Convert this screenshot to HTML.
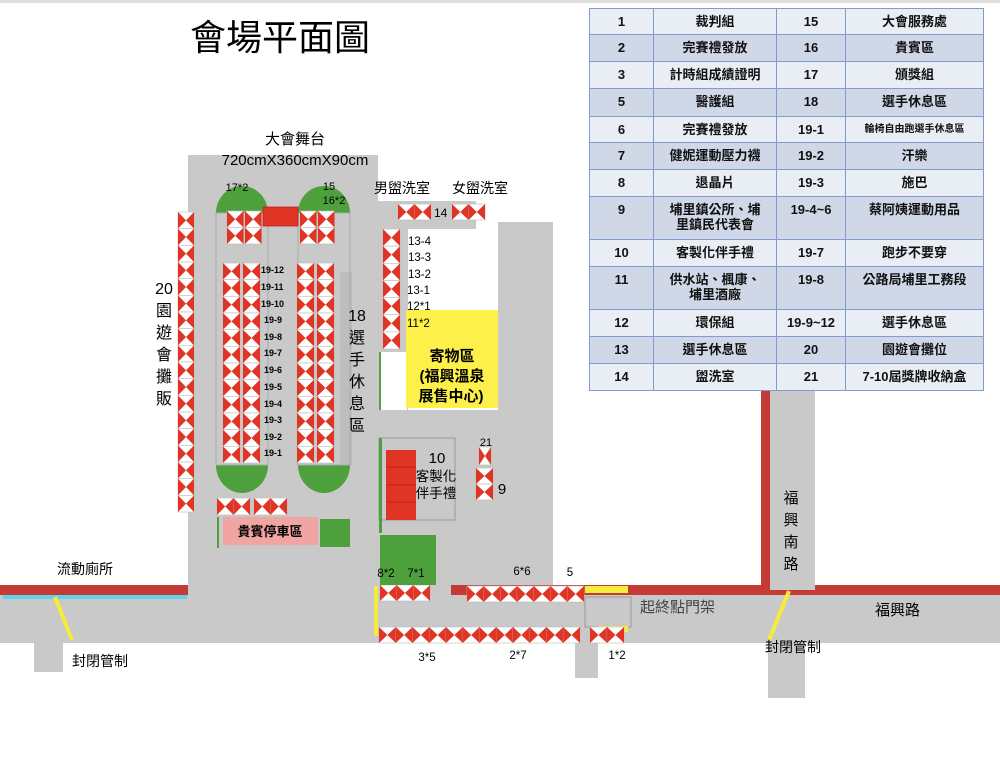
<!DOCTYPE html>
<html><head><meta charset="utf-8">
<style>
html,body{margin:0;padding:0;background:#fff;}
body{width:1000px;height:758px;position:relative;overflow:hidden;font-family:"Liberation Sans","Noto Sans CJK TC",sans-serif;}
svg{position:absolute;left:0;top:0;}
table{position:absolute;left:589px;top:8px;border-collapse:collapse;font-family:"Liberation Sans","Noto Sans CJK TC",sans-serif;font-size:13px;font-weight:bold;color:#111;}
td{border:1.5px solid #7f9bd0;text-align:center;vertical-align:top;padding:5px 2px 0 2px;line-height:15px;box-sizing:border-box;}
tr.a td{background:#e9edf4;} tr.b td{background:#d0d8e8;}
</style></head><body>
<svg id="s" width="1000" height="758" viewBox="0 0 1000 758" font-family="Liberation Sans, Noto Sans CJK TC, sans-serif">
<rect x="0" y="0" width="1000" height="3" fill="#ddd"/>
<rect x="188" y="155" width="190" height="440" fill="#c9c9c9"/>
<rect x="378" y="201" width="98" height="28" fill="#c9c9c9"/>
<rect x="378" y="229" width="30" height="181" fill="#c9c9c9"/>
<rect x="498" y="222" width="55" height="373" fill="#c9c9c9"/>
<rect x="378" y="410" width="175" height="185" fill="#c9c9c9"/>
<rect x="380" y="352" width="27" height="58" fill="#fff"/>
<rect x="379" y="352" width="2" height="58" fill="#5a9e4a"/>
<rect x="340" y="272" width="12" height="193" fill="#bdbdbd"/>
<rect x="0" y="595" width="1000" height="48" fill="#c9c9c9"/>
<rect x="0" y="585" width="188" height="10" fill="#c43a34"/>
<rect x="451" y="585" width="549" height="10" fill="#c43a34"/>
<rect x="3" y="595" width="184" height="4" fill="#5fd4e8"/>
<rect x="34" y="643" width="29" height="29" fill="#c9c9c9"/>
<rect x="575" y="643" width="23" height="35" fill="#c9c9c9"/>
<rect x="768" y="643" width="37" height="55" fill="#c9c9c9"/>
<rect x="770" y="390" width="45" height="200" fill="#c9c9c9"/>
<rect x="761" y="390" width="9" height="205" fill="#c43a34"/>
<rect x="585" y="597" width="46" height="30" fill="#c9c9c9" stroke="#999" stroke-width="1"/>
<rect x="585" y="586" width="43" height="7" fill="#f5ec3c"/>
<rect x="598" y="626" width="30" height="6" fill="#f5ec3c"/>
<rect x="374" y="586" width="4" height="50" fill="#f5ec3c"/>
<line x1="55" y1="597" x2="72" y2="640" stroke="#f5ec3c" stroke-width="4"/>
<line x1="789" y1="591" x2="769" y2="640" stroke="#f5ec3c" stroke-width="4"/>
<path d="M216,213 A26,27 0 0 1 268,213 Z" fill="#4ea03c"/>
<path d="M298,213 A26,27 0 0 1 350,213 Z" fill="#4ea03c"/>
<path d="M216,465 A26,28 0 0 0 268,465 Z" fill="#4ea03c"/>
<path d="M298,465 A26,28 0 0 0 350,465 Z" fill="#4ea03c"/>
<rect x="216" y="213" width="52" height="252" fill="none" stroke="#aaa" stroke-width="1"/>
<rect x="298" y="213" width="52" height="252" fill="none" stroke="#aaa" stroke-width="1"/>
<rect x="263" y="207" width="35" height="19" fill="#e03424" stroke="#b22" stroke-width="0.8"/>
<g id="tiles"></g>
<rect x="406" y="310" width="92" height="98" fill="#fdf04a"/>
<rect x="379" y="438" width="76" height="82" fill="none" stroke="#999" stroke-width="1"/>
<rect x="379" y="438" width="3" height="95" fill="#4ea03c"/>
<rect x="386" y="450" width="30" height="70" fill="#e03424"/>
<line x1="386" y1="467" x2="416" y2="467" stroke="#b22"/><line x1="386" y1="485" x2="416" y2="485" stroke="#b22"/><line x1="386" y1="502" x2="416" y2="502" stroke="#b22"/>
<rect x="380" y="535" width="56" height="50" fill="#4ea03c"/>
<rect x="217" y="517" width="2" height="31" fill="#4ea03c"/>
<rect x="223" y="517" width="95" height="28" fill="#f1a5a3"/>
<rect x="320" y="519" width="30" height="28" fill="#4ea03c"/>
<text x="190" y="50" font-size="36">會場平面圖</text>
<text x="295" y="144" font-size="15" text-anchor="middle">大會舞台</text>
<text x="295" y="165" font-size="15" text-anchor="middle">720cmX360cmX90cm</text>
<text x="237" y="191" font-size="11" text-anchor="middle">17*2</text>
<text x="329" y="190" font-size="11" text-anchor="middle">15</text>
<text x="334" y="204" font-size="11" text-anchor="middle">16*2</text>
<g font-size="9" font-weight="bold">
<text x="261" y="273">19-12</text><text x="261" y="290">19-11</text><text x="261" y="307">19-10</text><text x="264" y="323">19-9</text>
<text x="264" y="340">19-8</text><text x="264" y="356">19-7</text><text x="264" y="373">19-6</text><text x="264" y="390">19-5</text>
<text x="264" y="407">19-4</text><text x="264" y="423">19-3</text><text x="264" y="440">19-2</text><text x="264" y="456">19-1</text>
</g>
<g font-size="16" text-anchor="middle">
<text x="164" y="294">20</text><text x="164" y="316">園</text><text x="164" y="338">遊</text><text x="164" y="360">會</text><text x="164" y="382">攤</text><text x="164" y="404">販</text>
<text x="357" y="321">18</text><text x="357" y="343">選</text><text x="357" y="365">手</text><text x="357" y="387">休</text><text x="357" y="409">息</text><text x="357" y="431">區</text>
</g>
<text x="374" y="193" font-size="14">男盥洗室</text>
<text x="452" y="193" font-size="14">女盥洗室</text>
<text x="434" y="217" font-size="12">14</text>
<g font-size="11.5">
<text x="408" y="245">13-4</text><text x="408" y="261">13-3</text><text x="408" y="278">13-2</text><text x="407" y="294">13-1</text><text x="407" y="310">12*1</text><text x="407" y="327">11*2</text>
</g>
<g font-size="15" font-weight="bold" text-anchor="middle">
<text x="452" y="361">寄物區</text><text x="452" y="381">(福興溫泉</text><text x="451" y="401">展售中心)</text>
</g>
<text x="437" y="463" font-size="15" text-anchor="middle">10</text>
<text x="436" y="481" font-size="13.5" text-anchor="middle">客製化</text>
<text x="436" y="498" font-size="13.5" text-anchor="middle">伴手禮</text>
<text x="486" y="446" font-size="11" text-anchor="middle">21</text>
<text x="502" y="494" font-size="15" text-anchor="middle">9</text>
<text x="270" y="536" font-size="13" font-weight="bold" text-anchor="middle">貴賓停車區</text>
<text x="57" y="574" font-size="14">流動廁所</text>
<text x="72" y="666" font-size="14">封閉管制</text>
<text x="765" y="652" font-size="14">封閉管制</text>
<text x="875" y="615" font-size="15">福興路</text>
<text x="640" y="612" font-size="15" fill="#444">起終點門架</text>
<g font-size="15" text-anchor="middle">
<text x="791" y="503">福</text><text x="791" y="525">興</text><text x="791" y="547">南</text><text x="791" y="569">路</text>
</g>
<g font-size="11.5" text-anchor="middle">
<text x="386" y="577">8*2</text><text x="416" y="577">7*1</text><text x="522" y="575">6*6</text><text x="570" y="576">5</text>
<text x="427" y="661">3*5</text><text x="518" y="659">2*7</text><text x="617" y="659">1*2</text>
</g>
</svg>
<table>
<colgroup><col style="width:64px"><col style="width:123px"><col style="width:69px"><col style="width:138px"></colgroup>
<tr class="a" style="height:26px"><td>1</td><td>裁判組</td><td>15</td><td>大會服務處</td></tr>
<tr class="b" style="height:27px"><td>2</td><td>完賽禮發放</td><td>16</td><td>貴賓區</td></tr>
<tr class="a" style="height:27px"><td>3</td><td>計時組成績證明</td><td>17</td><td>頒獎組</td></tr>
<tr class="b" style="height:28px"><td>5</td><td>醫護組</td><td>18</td><td>選手休息區</td></tr>
<tr class="a" style="height:26px"><td>6</td><td>完賽禮發放</td><td>19-1</td><td style="font-size:10px">輪椅自由跑選手休息區</td></tr>
<tr class="b" style="height:27px"><td>7</td><td>健妮運動壓力襪</td><td>19-2</td><td>汗樂</td></tr>
<tr class="a" style="height:27px"><td>8</td><td>退晶片</td><td>19-3</td><td>施巴</td></tr>
<tr class="b" style="height:43px"><td>9</td><td>埔里鎮公所、埔<br>里鎮民代表會</td><td>19-4~6</td><td>蔡阿姨運動用品</td></tr>
<tr class="a" style="height:27px"><td>10</td><td>客製化伴手禮</td><td>19-7</td><td>跑步不要穿</td></tr>
<tr class="b" style="height:43px"><td>11</td><td>供水站、楓康、<br>埔里酒廠</td><td>19-8</td><td>公路局埔里工務段</td></tr>
<tr class="a" style="height:27px"><td>12</td><td>環保組</td><td>19-9~12</td><td>選手休息區</td></tr>
<tr class="b" style="height:27px"><td>13</td><td>選手休息區</td><td>20</td><td>園遊會攤位</td></tr>
<tr class="a" style="height:27px"><td>14</td><td>盥洗室</td><td>21</td><td>7-10屆獎牌收納盒</td></tr>
</table>
<script>
(function(){
var g=document.getElementById('tiles'),ns='http://www.w3.org/2000/svg',h='';
// [x,y,w,h,vertical?]  vertical: tiles stacked downward, else horizontal
var R=[[178,212,16,300,1],[227,211,16.5,33,1],[245,211,16.5,33,1],[300,211,16.5,33,1],[318,211,16.5,33,1],
[223,263,17,200,1],[243,263,17,200,1],[297,263,17,200,1],[317,263,17,200,1],
[217,498,33,17,0],[254,498,33,17,0],[398,204,33,16,0],[452,204,33,16,0],[383,229,17,120,1],
[479,447,12,18,1],[476,468,17,32,1],[380,585,50,16,0],[467,586,117,16,0],[379,627,201,16,0],[590,627,34,16,0]];
R.forEach(function(r){
 var x=r[0],y=r[1],w=r[2],H=r[3];
 if(r[4]){var n=Math.max(1,Math.round(H/16.6)),s=H/n;
  for(var i=0;i<n;i++){var ty=y+i*s;
   h+='<rect x="'+x+'" y="'+ty+'" width="'+w+'" height="'+s+'" fill="#fff" stroke="#bbb" stroke-width="0.6"/>';
   h+='<polygon points="'+x+','+ty+' '+(x+w/2)+','+(ty+s/2)+' '+x+','+(ty+s)+'" fill="#e03424"/>';
   h+='<polygon points="'+(x+w)+','+ty+' '+(x+w/2)+','+(ty+s/2)+' '+(x+w)+','+(ty+s)+'" fill="#e03424"/>';}
 } else {var n=Math.max(1,Math.round(w/16.6)),s=w/n;
  for(var i=0;i<n;i++){var tx=x+i*s;
   h+='<rect x="'+tx+'" y="'+y+'" width="'+s+'" height="'+H+'" fill="#fff" stroke="#bbb" stroke-width="0.6"/>';
   h+='<polygon points="'+tx+','+y+' '+(tx+s/2)+','+(y+H/2)+' '+tx+','+(y+H)+'" fill="#e03424"/>';
   h+='<polygon points="'+(tx+s)+','+y+' '+(tx+s/2)+','+(y+H/2)+' '+(tx+s)+','+(y+H)+'" fill="#e03424"/>';}
 }
});
g.innerHTML=h;
})();
</script>
</body></html>
